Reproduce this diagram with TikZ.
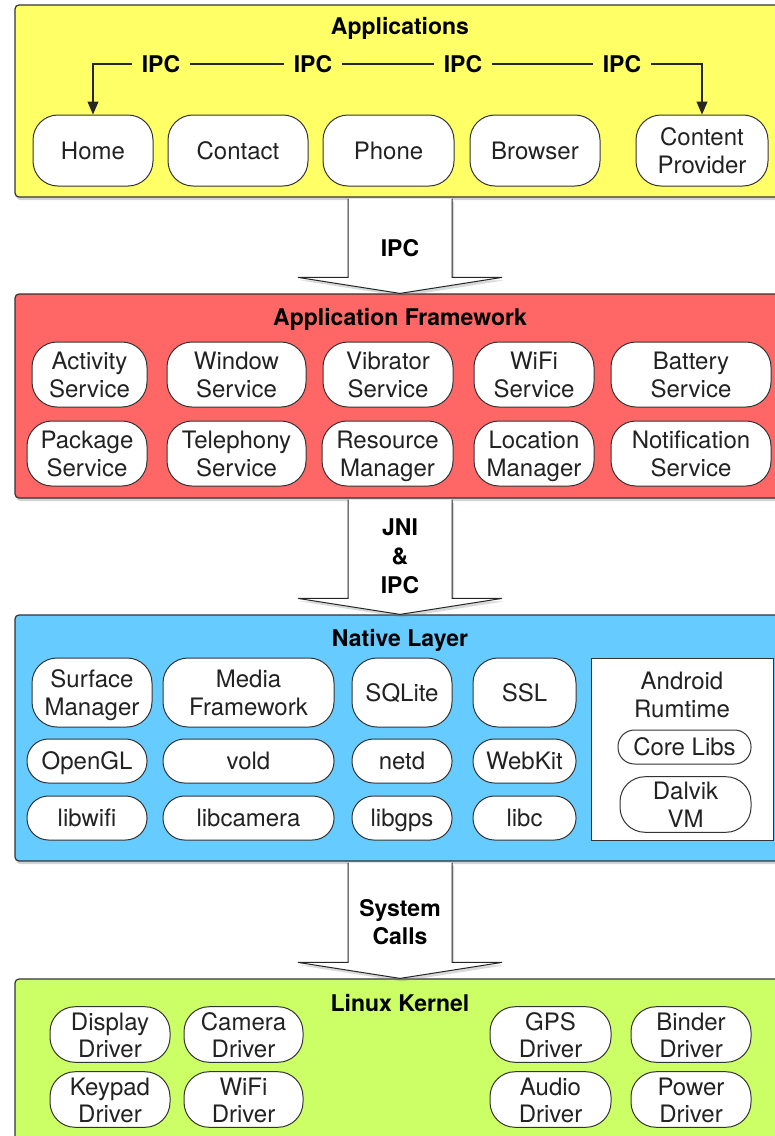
\documentclass[tikz,border=0pt]{standalone}
\usepackage{fontspec}
\setmainfont{TeX Gyre Heros}
\usepackage{tikz}
\usetikzlibrary{arrows.meta, calc, shadows}

\definecolor{appyellow}{RGB}{255,255,102}
\definecolor{frameworkred}{RGB}{255,102,102}
\definecolor{nativeblue}{RGB}{102,204,255}
\definecolor{kernelgreen}{RGB}{204,255,102}
\definecolor{boxtext}{RGB}{34,34,34}

% block arrow from the bottom of one layer to the top of the next
\newcommand{\layerarrow}[2]{%
  \draw[blockarrow] ($(#1.south)+(-52,1)$) -- ($(#2.north)+(-52,-16)$) -- ($(#2.north)+(-102,-16)$)
    -- (#2.north) -- ($(#2.north)+(102,-16)$) -- ($(#2.north)+(52,-16)$) -- ($(#1.south)+(52,1)$);
}

\begin{document}
\begin{tikzpicture}[x=1pt, y=-1pt,
    layer/.style={draw=black!80, line width=1.2pt, rounded corners=4pt, minimum width=770pt, inner sep=0pt,
      drop shadow={opacity=0.35, shadow xshift=1pt, shadow yshift=-3pt}},
    title/.style={font=\fontsize{23}{28}\selectfont\bfseries},
    pill/.style={draw=black!80, line width=1pt, fill=white, rounded corners=25pt, align=center, inner sep=0pt,
      text=boxtext, font=\fontsize{24}{28}\selectfont,
      execute at begin node={\rule{0pt}{22.3pt}}, execute at end node={\vphantom{g}}},
    twoline/.style={pill, execute at begin node={\rule{0pt}{50.3pt}}},
    slim/.style={pill, rounded corners=21.5pt, minimum height=44pt},
    blockarrow/.style={draw=black!85, line width=1pt, fill=white,
      drop shadow={opacity=0.3, shadow xshift=2pt, shadow yshift=-3pt}},
    ipclink/.style={line width=1.2pt, draw=black!85}]

    \useasboundingbox (0,0) rectangle (775,1136);
    \clip (0,0) rectangle (775,1136);

    % Layers
    \node[layer, fill=appyellow, minimum height=192pt] (apps) at (400,101) {};
    \node[layer, fill=frameworkred, minimum height=204pt] (framework) at (400,396) {};
    \node[layer, fill=nativeblue, minimum height=246pt] (native) at (400,738) {};
    \node[layer, fill=kernelgreen, minimum height=171pt] (kernel) at (400,1064.5) {};

    % Arrows between layers
    \layerarrow{apps}{framework}
    \node[title, align=center] (ipcdown) at (400,248) {IPC};
    \layerarrow{framework}{native}
    \node[title, align=center, font=\fontsize{23}{29}\selectfont\bfseries] (jnidown) at (400,556) {JNI\\\&\\IPC};
    \layerarrow{native}{kernel}
    \node[title, align=center] (sysdown) at (400,922) {System\\Calls};

    % Applications
    \node[title] (appstitle) at (400,28) {Applications};
    \node[pill, minimum width=120pt, minimum height=71pt] (home) at (93,150.5) {Home};
    \node[pill, minimum width=140pt, minimum height=71pt] (contact) at (238,150.5) {Contact};
    \node[pill, minimum width=131pt, minimum height=71pt] (phone) at (388.5,150.5) {Phone};
    \node[pill, minimum width=130pt, minimum height=71pt] (browser) at (535,150.5) {Browser};
    \node[twoline, minimum width=132pt, minimum height=71pt] (provider) at (702,150.5) {Content\\Provider};

    % IPC between applications
    \node[title, inner xsep=10pt] (ipc1) at (161,64) {IPC};
    \node[title, inner xsep=10pt] (ipc2) at (313,64) {IPC};
    \node[title, inner xsep=10pt] (ipc3) at (463,64) {IPC};
    \node[title, inner xsep=10pt] (ipc4) at (622,64) {IPC};
    \draw[ipclink, -{Triangle[length=13pt, width=11pt]}] (ipc1.west) -| (home.north);
    \draw[ipclink] (ipc1.east) -- (ipc2.west);
    \draw[ipclink] (ipc2.east) -- (ipc3.west);
    \draw[ipclink] (ipc3.east) -- (ipc4.west);
    \draw[ipclink, -{Triangle[length=13pt, width=11pt]}] (ipc4.east) -| (provider.north);

    % Application Framework
    \node[title] (frametitle) at (400,319) {Application Framework};
    \node[twoline, minimum width=115pt, minimum height=65pt] (activity) at (89.5,374.5) {Activity\\Service};
    \node[twoline, minimum width=139pt, minimum height=65pt] (window) at (236.5,374.5) {Window\\Service};
    \node[twoline, minimum width=130pt, minimum height=65pt] (vibrator) at (388,374.5) {Vibrator\\Service};
    \node[twoline, minimum width=120pt, minimum height=65pt] (wifi) at (534,374.5) {WiFi\\Service};
    \node[twoline, minimum width=160pt, minimum height=65pt] (battery) at (691,374.5) {Battery\\Service};
    \node[twoline, minimum width=120pt, minimum height=65pt] (package) at (87,453.5) {Package\\Service};
    \node[twoline, minimum width=139pt, minimum height=65pt] (telephony) at (236.5,453.5) {Telephony\\Service};
    \node[twoline, minimum width=131pt, minimum height=65pt] (resource) at (387.5,453.5) {Resource\\Manager};
    \node[twoline, minimum width=120pt, minimum height=65pt] (location) at (534,453.5) {Location\\Manager};
    \node[twoline, minimum width=160pt, minimum height=65pt] (notification) at (691,453.5) {Notification\\Service};

    % Native Layer
    \node[title] (nativetitle) at (400,640) {Native Layer};
    \node[twoline, minimum width=120pt, minimum height=69pt] (surface) at (92,692.5) {Surface\\Manager};
    \node[twoline, minimum width=171pt, minimum height=69pt] (media) at (248.5,692.5) {Media\\Framework};
    \node[pill, minimum width=100pt, minimum height=69pt] (sqlite) at (402,692.5) {SQLite};
    \node[pill, minimum width=103pt, minimum height=69pt] (ssl) at (524.5,692.5) {SSL};
    \node[slim, minimum width=120pt] (opengl) at (87,761) {OpenGL};
    \node[slim, minimum width=171pt] (vold) at (248.5,761) {vold};
    \node[slim, minimum width=100pt] (netd) at (402,761) {netd};
    \node[slim, minimum width=103pt] (webkit) at (524.5,761) {WebKit};
    \node[slim, minimum width=120pt] (libwifi) at (87,818) {libwifi};
    \node[slim, minimum width=171pt] (libcamera) at (248.5,818) {libcamera};
    \node[slim, minimum width=100pt] (libgps) at (402,818) {libgps};
    \node[slim, minimum width=103pt] (libc) at (524.5,818) {libc};

    % Android runtime
    \node[draw=black!80, line width=1pt, fill=white, minimum width=182pt, minimum height=182pt, inner sep=0pt] (runtime) at (682,749) {};
    \node[align=center, text=boxtext, font=\fontsize{24}{28}\selectfont] (runtimelabel) at (682,695) {Android\\Rumtime};
    \node[pill, rounded corners=16.5pt, minimum width=133pt, minimum height=34pt] (corelibs) at (684.5,747) {Core Libs};
    \node[twoline, minimum width=131pt, minimum height=55pt] (dalvik) at (685.5,804.5) {Dalvik\\VM};

    % Linux Kernel
    \node[title] (kerneltitle) at (400,1003) {Linux Kernel};
    \node[twoline, minimum width=120pt, minimum height=55pt, font=\fontsize{24}{27}\selectfont] (display) at (110,1034.5) {Display\\Driver};
    \node[twoline, minimum width=119pt, minimum height=55pt, font=\fontsize{24}{27}\selectfont] (camera) at (243.5,1034.5) {Camera\\Driver};
    \node[twoline, minimum width=121pt, minimum height=55pt, font=\fontsize{24}{27}\selectfont] (gps) at (550.5,1034.5) {GPS\\Driver};
    \node[twoline, minimum width=120pt, minimum height=55pt, font=\fontsize{24}{27}\selectfont] (binder) at (691,1034.5) {Binder\\Driver};
    \node[twoline, minimum width=120pt, minimum height=55pt, font=\fontsize{24}{27}\selectfont] (keypad) at (110,1099.5) {Keypad\\Driver};
    \node[twoline, minimum width=119pt, minimum height=55pt, font=\fontsize{24}{27}\selectfont] (wifidriver) at (243.5,1099.5) {WiFi\\Driver};
    \node[twoline, minimum width=121pt, minimum height=55pt, font=\fontsize{24}{27}\selectfont] (audio) at (550.5,1099.5) {Audio\\Driver};
    \node[twoline, minimum width=120pt, minimum height=55pt, font=\fontsize{24}{27}\selectfont] (power) at (691,1099.5) {Power\\Driver};

\end{tikzpicture}
\end{document}
